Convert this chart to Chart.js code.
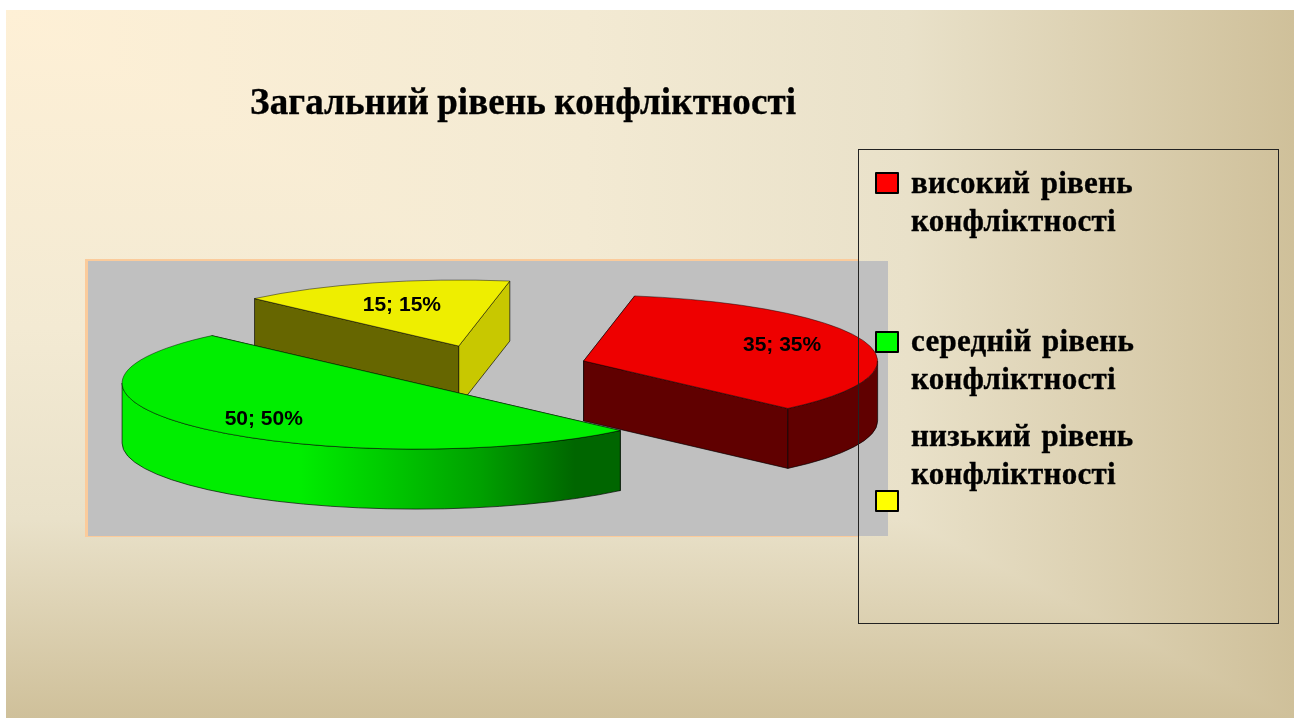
<!DOCTYPE html>
<html lang="uk">
<head>
<meta charset="utf-8">
<title>Загальний рівень конфліктності</title>
<script src="https://cdn.jsdelivr.net/npm/chart.js@4"></script>
<style>
html,body{margin:0;padding:0;background:#fff;overflow:hidden}
#stage{position:relative;width:1294px;height:718px;overflow:hidden}
#slide{position:absolute;left:6px;top:10px;width:1288px;height:708px;
 background-image:linear-gradient(90deg,#fef0d6 0%,#f3ead3 45%,#e9e1c9 70%,#cfc09a 100%),linear-gradient(180deg,#fef0d6 0%,#f3ead3 45%,#e9e1c9 72%,#cfc09a 100%);
 background-blend-mode:darken}
#tan{position:absolute;left:85px;top:259px;width:773px;height:278px;background:#fbcb9b}
#gray{position:absolute;left:88px;top:261px;width:800px;height:275px;background:#c0c0c0}
canvas{position:absolute;left:0;top:0}
#title{position:absolute;left:250px;top:79px;font:bold 37px "Liberation Serif",serif;letter-spacing:.1px;word-spacing:-1px;-webkit-text-stroke:.35px #000;color:#000;white-space:nowrap;line-height:46px}
#legendBox{position:absolute;left:858px;top:149px;width:419px;height:473px;border:1px solid #222}
.sw{position:absolute;left:875px;width:20px;height:17.5px;border:2.5px solid #000;border-radius:1px}
.lt{position:absolute;left:911px;font:bold 31px "Liberation Serif",serif;letter-spacing:.25px;word-spacing:2.5px;-webkit-text-stroke:.35px #000;color:#000;white-space:nowrap;line-height:38px}
</style>
</head>
<body>
<div id="stage">
 <div id="slide"></div>
 <div id="tan"></div>
 <div id="gray"></div>
 <canvas id="c" width="1294" height="718"></canvas>
 <div id="title"></div>
 <div id="legendBox"></div>
 <div id="legend"></div>
</div>
<script>
const chartTitle = 'Загальний рівень конфліктності';
const categories = ['високий рівень конфліктності','середній рівень конфліктності','низький рівень конфліктності'];
const values = [35, 50, 15];
const percents = [35, 50, 15];
const topColors = ['#ee0000','#00ee00','#eeee00'];
const legendColors = ['#ff0000','#00ff00','#ffff00'];
const startFaceColors = ['#600000','#006600','#666600'];
const endFaceColors = ['#600000','#006600','#c8c800'];
const legendSwatchTops = [172,331,490];
const legendTextTops = [164,322,417];
const labelNudgeX = [-4,0,5];
const labelNudgeY = [-2,3,5];

document.getElementById('title').textContent = chartTitle;
const legendEl = document.getElementById('legend');
categories.forEach((name,i)=>{
  const s=document.createElement('div');s.className='sw';s.style.top=legendSwatchTops[i]+'px';s.style.background=legendColors[i];legendEl.appendChild(s);
  const t=document.createElement('div');t.className='lt';t.style.top=legendTextTops[i]+'px';
  const w=name.split(' ');t.innerHTML=w[0]+' '+w[1]+'<br>'+w[2];legendEl.appendChild(t);
});

const FLAT = 0.2245, DEPTH = 60, EXPLODE = 100;
const drawOrder = [2,0,1];
function centerY(chart){return (chart.chartArea.top+chart.chartArea.bottom)/2;}
function geom(chart,arc){
  const cy=centerY(chart), s=arc.startAngle, e=arc.endAngle, r=arc.outerRadius;
  const ax=arc.x, ay=cy+(arc.y-cy)*FLAT;
  return {ax,ay,r,s,e,mid:(s+e)/2,pt:a=>[ax+Math.cos(a)*r, ay+Math.sin(a)*r*FLAT]};
}
const flatPie = {
  id:'flatPie',
  afterDatasetsUpdate(chart){
    // pull every slice straight out along its middle angle
    chart.getDatasetMeta(0).data.forEach(arc=>{
      const mid=(arc.startAngle+arc.endAngle)/2;
      arc.x+=Math.cos(mid)*EXPLODE;
      arc.y+=Math.sin(mid)*EXPLODE;
    });
  },
  beforeDatasetDraw(chart){
    const ctx=chart.ctx, arcs=chart.getDatasetMeta(0).data;
    const line='rgba(0,0,0,.65)';
    drawOrder.forEach(i=>{
      const g=geom(chart,arcs[i]);
      const face=(a,col)=>{
        const q=g.pt(a);
        ctx.beginPath();ctx.moveTo(g.ax,g.ay);ctx.lineTo(q[0],q[1]);ctx.lineTo(q[0],q[1]+DEPTH);ctx.lineTo(g.ax,g.ay+DEPTH);ctx.closePath();
        ctx.fillStyle=col;ctx.fill();ctx.strokeStyle=line;ctx.lineWidth=1;ctx.stroke();
      };
      face(g.s,startFaceColors[i]);
      face(g.e,endFaceColors[i]);
      const lo=Math.max(g.s,0), hi=Math.min(g.e,Math.PI);
      if(hi>lo){
        ctx.beginPath();
        ctx.save();ctx.translate(g.ax,g.ay);ctx.scale(1,FLAT);ctx.arc(0,0,g.r,lo,hi);ctx.restore();
        ctx.save();ctx.translate(g.ax,g.ay+DEPTH);ctx.scale(1,FLAT);ctx.arc(0,0,g.r,hi,lo,true);ctx.restore();
        ctx.closePath();
        if(i===1){
          const gr=ctx.createLinearGradient(g.ax-g.r,0,g.ax+g.r,0);
          gr.addColorStop(0,'#00ee00');gr.addColorStop(0.3,'#00ee00');gr.addColorStop(0.44,'#00cc00');gr.addColorStop(0.61,'#00a000');gr.addColorStop(0.77,'#006600');gr.addColorStop(1,'#006600');
          ctx.fillStyle=gr;
        } else ctx.fillStyle=endFaceColors[i];
        ctx.fill();ctx.strokeStyle=line;ctx.lineWidth=1;ctx.stroke();
      }
    });
    const cy=centerY(chart);
    ctx.save();ctx.translate(0,cy);ctx.scale(1,FLAT);ctx.translate(0,-cy);
  },
  afterDatasetDraw(chart){
    const ctx=chart.ctx, arcs=chart.getDatasetMeta(0).data;
    ctx.restore();
    arcs.forEach(arc=>{
      const g=geom(chart,arc);
      ctx.beginPath();ctx.moveTo(g.ax,g.ay);
      ctx.save();ctx.translate(g.ax,g.ay);ctx.scale(1,FLAT);ctx.arc(0,0,g.r,g.s,g.e);ctx.restore();
      ctx.closePath();ctx.strokeStyle='rgba(0,0,0,.45)';ctx.lineWidth=1;ctx.stroke();
    });
    ctx.fillStyle='#000';ctx.font='bold 21px "Liberation Sans",Arial,sans-serif';ctx.textAlign='center';ctx.textBaseline='middle';
    arcs.forEach((arc,i)=>{
      const g=geom(chart,arc), d=g.r*0.72;
      ctx.fillText(values[i]+'; '+percents[i]+'%', g.ax+Math.cos(g.mid)*d+labelNudgeX[i], g.ay+Math.sin(g.mid)*d*FLAT+labelNudgeY[i]);
    });
  }
};
new Chart(document.getElementById('c'),{
  type:'pie',
  data:{labels:categories,datasets:[{data:values,backgroundColor:topColors,borderWidth:0,radius:294,clip:false,hoverOffset:0}]},
  options:{responsive:false,animation:false,rotation:10,events:[],
    layout:{padding:{left:0,right:318,top:17,bottom:0}},
    plugins:{legend:{display:false},tooltip:{enabled:false},title:{display:false}}},
  plugins:[flatPie]
});
</script>
</body>
</html>
